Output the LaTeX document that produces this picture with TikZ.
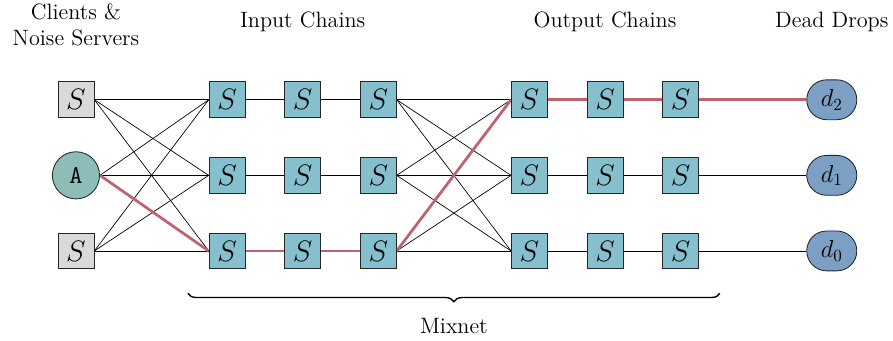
\documentclass[tikz,border=0pt]{standalone}
\usepackage{tikz}
\usetikzlibrary{positioning,backgrounds,decorations.pathreplacing,shapes.misc}
\definecolor{mixblue}{HTML}{86C0CE}
\definecolor{clientteal}{HTML}{8DBDB8}
\definecolor{dropblue}{HTML}{7BA0C4}
\definecolor{noisegray}{HTML}{D9D9D9}
\definecolor{pathred}{HTML}{C0616E}
\tikzset{
  % noder
  srv/.style={rectangle,draw=black!85,fill=mixblue,line width=0.5pt,inner sep=0pt,
              minimum size=0.74cm,font=\fontsize{16}{19}\selectfont},
  noise/.style={srv,fill=noisegray},
  cli/.style={circle,draw=black!85,fill=clientteal,line width=0.5pt,inner sep=0pt,
              minimum size=0.97cm,font=\fontsize{15}{18}\selectfont\ttfamily},
  drop/.style={rounded rectangle,draw=black!85,fill=dropblue,line width=0.5pt,inner sep=0pt,
               minimum width=1.03cm,minimum height=0.82cm,font=\fontsize{14}{17}\selectfont},
  % kanter
  link/.style={draw=black,line width=0.4pt},
  route/.style={draw=pathred,line width=1.6pt},
  hdr/.style={align=center,inner sep=1pt,font=\fontsize{13}{15.3}\selectfont},
  mixbrace/.style={decorate,decoration={brace,mirror,amplitude=5pt},line width=0.8pt},
}
\begin{document}
\begin{tikzpicture}[x=1.555cm,y=1.555cm]
  \useasboundingbox (-1.005,-1.19) rectangle (10.81,3.32);
  % rubriker
  \node[hdr] (hcli) at (0,2.99) {Clients \&\\Noise Servers};
  \node[hdr] (hin) at (3,3.03) {Input Chains};
  \node[hdr] (hout) at (7,3.03) {Output Chains};
  \node[hdr] (hdd) at (10,3.03) {Dead Drops};
  % klienter
  \node[noise] (c2) at (0,2) {$S$};
  \node[cli] (c1) at (0,1) {A};
  \node[noise] (c0) at (0,0) {$S$};
  % input-kedjor
  \node[srv] (i12) at (2,2) {$S$};
  \node[srv] (i22) at (3,2) {$S$};
  \node[srv] (i32) at (4,2) {$S$};
  \node[srv] (i11) at (2,1) {$S$};
  \node[srv] (i21) at (3,1) {$S$};
  \node[srv] (i31) at (4,1) {$S$};
  \node[srv] (i10) at (2,0) {$S$};
  \node[srv] (i20) at (3,0) {$S$};
  \node[srv] (i30) at (4,0) {$S$};
  % output-kedjor
  \node[srv] (o12) at (6,2) {$S$};
  \node[srv] (o22) at (7,2) {$S$};
  \node[srv] (o32) at (8,2) {$S$};
  \node[srv] (o11) at (6,1) {$S$};
  \node[srv] (o21) at (7,1) {$S$};
  \node[srv] (o31) at (8,1) {$S$};
  \node[srv] (o10) at (6,0) {$S$};
  \node[srv] (o20) at (7,0) {$S$};
  \node[srv] (o30) at (8,0) {$S$};
  % dead drops
  \node[drop] (d2) at (10,2) {$d_2$};
  \node[drop] (d1) at (10,1) {$d_1$};
  \node[drop] (d0) at (10,0) {$d_0$};
  \begin{scope}[on background layer]
  \foreach \a in {0,1,2} {
    \foreach \b in {0,1,2} {
      \draw[link] (c\a.east) -- (i1\b.west);
      \draw[link] (i3\a.east) -- (o1\b.west);
    }
    \draw[link] (i1\a) -- (i2\a) -- (i3\a);
    \draw[link] (o1\a) -- (o2\a) -- (o3\a) -- (d\a);
  }
  \draw[route] (c1.east) -- (i10.west);
  \draw[route] (i10) -- (i20) -- (i30);
  \draw[route] (i30.east) -- (o12.west);
  \draw[route] (o12) -- (o22) -- (o32) -- (d2);
  \end{scope}
  % mixnet
  \coordinate (bl) at (1.48,-0.56);
  \coordinate (br) at (8.52,-0.56);
  \draw[mixbrace] (bl) -- (br);
  \node[hdr] (mix) at (5,-0.99) {Mixnet};
\end{tikzpicture}
\end{document}
